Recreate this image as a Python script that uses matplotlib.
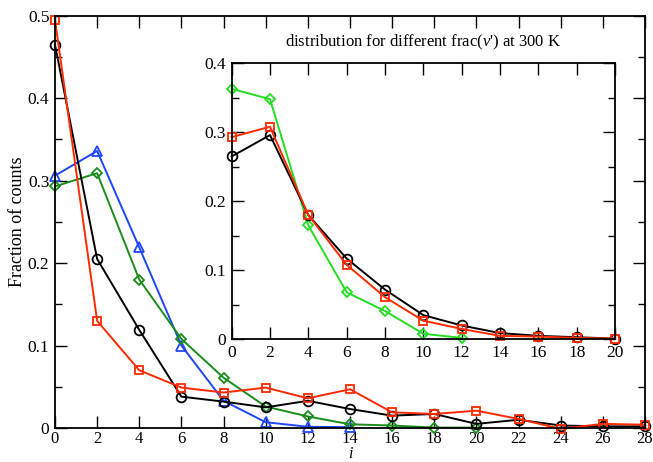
import matplotlib
matplotlib.use("Agg")
import matplotlib.pyplot as plt
from matplotlib.ticker import MultipleLocator

plt.rcParams['font.family'] = ['Liberation Serif', 'DejaVu Serif']
plt.rcParams['mathtext.fontset'] = 'custom'
plt.rcParams['mathtext.rm'] = 'Liberation Serif'
plt.rcParams['mathtext.it'] = 'Liberation Serif:italic'

# main panel data
x_black = [0, 2, 4, 6, 8, 10, 12, 14, 16, 18, 20, 22, 24, 26, 28]
y_black = [0.465, 0.205, 0.119, 0.038, 0.032, 0.025, 0.033, 0.023, 0.015, 0.017,
           0.005, 0.010, 0.003, 0.002, 0.002]
x_red = [0, 2, 4, 6, 8, 10, 12, 14, 16, 18, 20, 22, 24, 26, 28]
y_red = [0.495, 0.130, 0.070, 0.049, 0.043, 0.049, 0.036, 0.047, 0.019, 0.017,
         0.021, 0.011, -0.001, 0.005, 0.004]
x_blue = [0, 2, 4, 6, 8, 10, 12, 14]
y_blue = [0.306, 0.336, 0.219, 0.100, 0.033, 0.007, 0.0015, 0.001]
x_green = [0, 2, 4, 6, 8, 10, 12, 14, 16, 18, 20]
y_green = [0.293, 0.309, 0.180, 0.108, 0.061, 0.026, 0.014, 0.0045, 0.003, 0.0005, 0.0005]

# inset data
xi = [0, 2, 4, 6, 8, 10, 12, 14, 16, 18, 20]
yi_black = [0.265, 0.296, 0.180, 0.117, 0.072, 0.035, 0.020, 0.009, 0.005, 0.003, 0.001]
yi_red = [0.293, 0.308, 0.180, 0.108, 0.061, 0.027, 0.015, 0.005, 0.004, 0.002, 0.001]
xi_green = [0, 2, 4, 6, 8, 10, 12]
yi_green = [0.363, 0.348, 0.165, 0.068, 0.041, 0.008, 0.002]

RED = '#ff2a00'
BLUE = '#1e46ff'
GREEN = '#1a8c1a'
LGREEN = '#22dd22'

fig = plt.figure(figsize=(6.53, 4.62), dpi=100)
ax = fig.add_axes([0.0842, 0.0736, 0.9035, 0.8924])


def style_axes(a, fs=12.5):
    a.tick_params(which='both', direction='in', top=True, right=True, labelsize=fs, width=1)
    a.tick_params(which='major', length=8.5, pad=4)
    a.tick_params(which='minor', length=5)
    for s in a.spines.values():
        s.set_linewidth(1.3)


kw = dict(lw=1.4, mfc='none', mew=1.3, clip_on=False)
ax.plot(x_blue, y_blue, color=BLUE, marker='^', ms=7, **kw)
ax.plot(x_green, y_green, color=GREEN, marker='D', ms=5, **kw)
ax.plot(x_black, y_black, color='black', marker='o', ms=7, **kw)
ax.plot(x_red, y_red, color=RED, marker='s', ms=5.5, **kw)
ax.set_xlim(0, 28)
ax.set_ylim(0, 0.5)
ax.xaxis.set_major_locator(MultipleLocator(2))
ax.set_yticks([0, 0.1, 0.2, 0.3, 0.4, 0.5])
ax.set_yticklabels(['0', '0.1', '0.2', '0.3', '0.4', '0.5'])
ax.yaxis.set_minor_locator(MultipleLocator(0.05))
style_axes(ax)
ax.tick_params(axis='x', which='major', pad=2, labelsize=12)
fig.text(0.536, 0.0, 'i', fontsize=11.5, style='italic', ha='center', va='bottom')
ax.set_ylabel('Fraction of counts', fontsize=13, labelpad=1)

ins = fig.add_axes([0.3548, 0.2656, 0.5870, 0.5974])
ins.plot(xi_green, yi_green, color=LGREEN, marker='D', ms=5, **kw)
ins.plot(xi, yi_black, color='black', marker='o', ms=7, **kw)
ins.plot(xi, yi_red, color=RED, marker='s', ms=5.5, **kw)
ins.set_xlim(0, 20)
ins.set_ylim(0, 0.4)
ins.xaxis.set_major_locator(MultipleLocator(2))
ins.set_yticks([0, 0.1, 0.2, 0.3, 0.4])
ins.set_yticklabels(['0', '0.1', '0.2', '0.3', '0.4'])
ins.yaxis.set_minor_locator(MultipleLocator(0.05))
style_axes(ins)
ins.set_title("distribution for different frac($v$') at 300 K", fontsize=12, pad=12)

fig.savefig('out.png', dpi=100)
